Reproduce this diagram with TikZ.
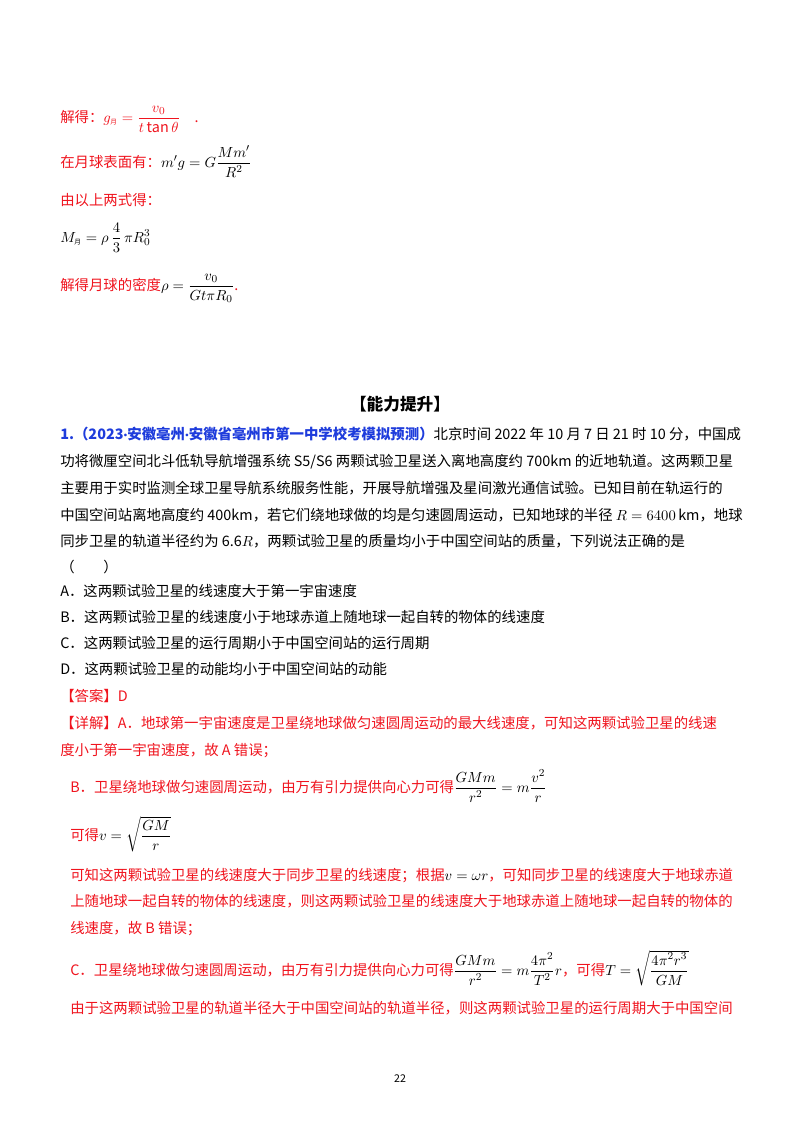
\documentclass[tikz,border=0pt]{standalone}
\usepackage{amsmath}
\usepackage{fontspec}
\setmainfont{Noto Sans CJK SC}
\newfontfamily\latf{Carlito}
\usepackage{xcolor}
\definecolor{rd}{HTML}{F0141E}
\definecolor{bl}{HTML}{1E3CDC}
\newcommand{\mdt}{{\latf ·}}
\begin{document}
\begin{tikzpicture}[x=0.75pt,y=-0.75pt,
  t/.style={anchor=base west,inner sep=0pt,font=\fontsize{10.8pt}{12pt}\selectfont},
  r/.style={t,text=rd}]
\useasboundingbox (0,0) rectangle (800,1132);
\fill[white] (0,0) rectangle (800,1132);
\node[r] (l1) at (60,122) {解得：$g_{\text{\tiny 月}}=\dfrac{v_0}{t\tan\theta}$\quad .};
\node[r] (l2) at (60,167) {在月球表面有：\textcolor{black}{$m'g=G\dfrac{Mm'}{R^2}$}};
\node[r] (l3) at (60,205) {由以上两式得：};
\node[t] (l4) at (60,242) {$M_{\text{\tiny 月}}=\rho\,\dfrac{4}{3}\,\pi R_0^3$};
\node[r] (l5) at (60,290) {解得月球的密度\textcolor{black}{$\rho=\dfrac{v_0}{Gt\pi R_0}$}.};
\node[t,anchor=base,font=\fontsize{12.5pt}{14pt}\selectfont\bfseries] (h) at (400,410) {【能力提升】};
\node[t] (p1) at (60,439) {\textcolor{bl}{\bfseries 1.（2023\mdt 安徽亳州\mdt 安徽省亳州市第一中学校考模拟预测）}北京时间 2022 年 10 月 7 日 21 时 10 分，中国成};
\node[t] (p2) at (60,466) {功将微厘空间北斗低轨导航增强系统 S5/S6 两颗试验卫星送入离地高度约 700km 的近地轨道。这两颗卫星};
\node[t] (p3) at (60,493) {主要用于实时监测全球卫星导航系统服务性能，开展导航增强及星间激光通信试验。已知目前在轨运行的};
\node[t] (p4) at (60,520) {中国空间站离地高度约 400km，若它们绕地球做的均是匀速圆周运动，已知地球的半径 $R=6400\,\mathrm{km}$，地球};
\node[t] (p5) at (60,546) {同步卫星的轨道半径约为 6.6$R$，两颗试验卫星的质量均小于中国空间站的质量，下列说法正确的是};
\node[t] (p6) at (60,572) {（\qquad ）};
\node[t] (a) at (60,596) {A．这两颗试验卫星的线速度大于第一宇宙速度};
\node[t] (b) at (60,622) {B．这两颗试验卫星的线速度小于地球赤道上随地球一起自转的物体的线速度};
\node[t] (c) at (60,648) {C．这两颗试验卫星的运行周期小于中国空间站的运行周期};
\node[t] (d) at (60,674) {D．这两颗试验卫星的动能均小于中国空间站的动能};
\node[r] (ans) at (60,701) {【答案】D};
\node[r] (x1) at (60,728) {【详解】A．地球第一宇宙速度是卫星绕地球做匀速圆周运动的最大线速度，可知这两颗试验卫星的线速};
\node[r] (x2) at (60,755) {度小于第一宇宙速度，故 A 错误；};
\node[r] (x3) at (70,792) {B．卫星绕地球做匀速圆周运动，由万有引力提供向心力可得\textcolor{black}{$\dfrac{GMm}{r^2}=m\dfrac{v^2}{r}$}};
\node[r] (x4) at (70,840) {可得\textcolor{black}{$v=\sqrt{\dfrac{GM}{r}}$}};
\node[r] (x5) at (70,880) {可知这两颗试验卫星的线速度大于同步卫星的线速度；根据\textcolor{black}{$v=\omega r$}，可知同步卫星的线速度大于地球赤道};
\node[r] (x6) at (70,906) {上随地球一起自转的物体的线速度，则这两颗试验卫星的线速度大于地球赤道上随地球一起自转的物体的};
\node[r] (x7) at (70,933) {线速度，故 B 错误；};
\node[r] (x8) at (70,975) {C．卫星绕地球做匀速圆周运动，由万有引力提供向心力可得\textcolor{black}{$\dfrac{GMm}{r^2}=m\dfrac{4\pi^2}{T^2}r$}，可得\textcolor{black}{$T=\sqrt{\dfrac{4\pi^2r^3}{GM}}$}};
\node[r] (x9) at (70,1013) {由于这两颗试验卫星的轨道半径大于中国空间站的轨道半径，则这两颗试验卫星的运行周期大于中国空间};
\node[t,anchor=base,font=\fontsize{8pt}{9pt}\selectfont] (pg) at (400,1082) {22};
\end{tikzpicture}
\end{document}
